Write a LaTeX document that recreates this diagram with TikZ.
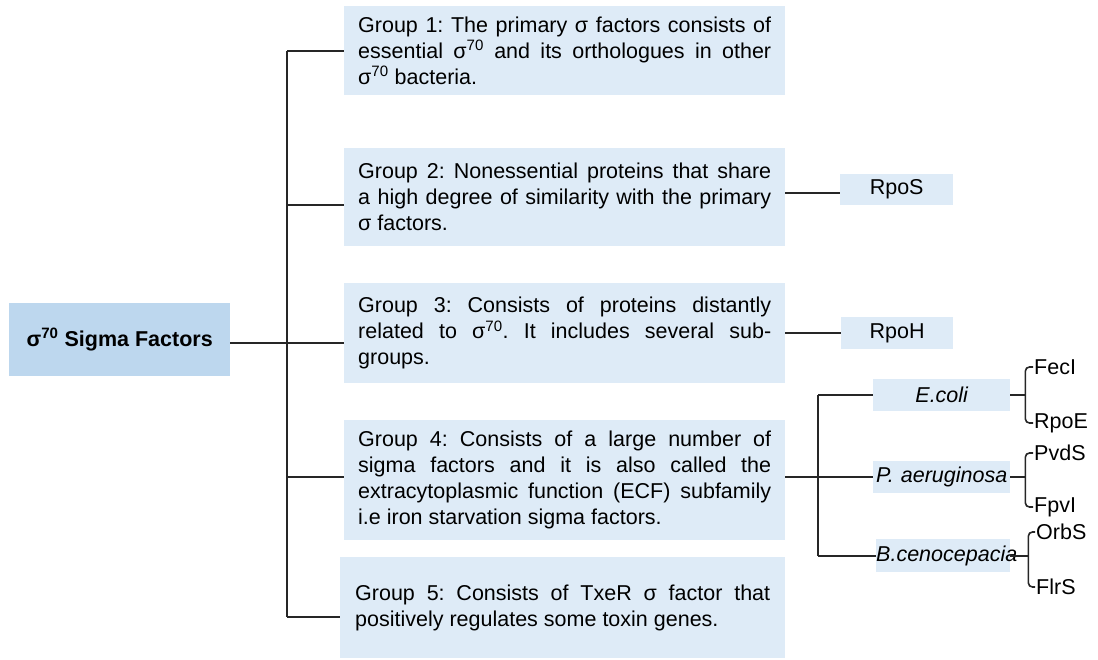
\documentclass[tikz,border=0pt]{standalone}
\usepackage{fontspec}
\setmainfont{Liberation Sans}
\frenchspacing
\definecolor{mainblue}{RGB}{189,215,238}
\definecolor{grpblue}{RGB}{222,235,247}
\begin{document}
\begin{tikzpicture}[x=1pt,y=-1pt,
  conn/.style={draw=black!85,line width=1.6pt},
  grp/.style={fill=grpblue,anchor=north west,text width=413pt,inner xsep=14pt,inner ysep=0pt,
    align=justify,font=\fontsize{21.5}{26}\selectfont},
  mainbox/.style={fill=mainblue,anchor=north west,inner sep=0pt,align=center,
    font=\fontsize{21.5}{26}\selectfont\bfseries},
  lab/.style={fill=grpblue,anchor=north west,inner sep=0pt,align=center,
    font=\fontsize{21.5}{26}\selectfont},
  leaf/.style={anchor=west,inner sep=1pt,font=\fontsize{21.5}{26}\selectfont}]
\useasboundingbox (0,0) rectangle (1098,659);
% main
\node[mainbox,minimum width=221pt,minimum height=73pt] (main) at (9,303) {σ\textsuperscript{70} Sigma Factors};
% groups
\node[grp,minimum height=89pt] (g1) at (344,6) {Group 1: The primary σ factors consists of\linebreak essential σ\textsuperscript{70} and its orthologues in other\linebreak σ\textsuperscript{70} bacteria.};
\node[grp,minimum height=98pt] (g2) at (344,148) {Group 2: Nonessential proteins that share\linebreak a high degree of similarity with the primary\linebreak σ factors.};
\node[grp,minimum height=100pt] (g3) at (344,283) {Group 3: Consists of proteins distantly\linebreak related to σ\textsuperscript{70}. It includes several sub-\linebreak groups.};
\node[grp,minimum height=120pt] (g4) at (344,420) {Group 4: Consists of a large number of\linebreak sigma factors and it is also called the\linebreak extracytoplasmic function (ECF) subfamily\linebreak i.e iron starvation sigma factors.};
\node[grp,minimum height=101pt,text width=415pt,inner xsep=15pt] (g5) at (340,557) {Group 5: Consists of TxeR σ factor that\linebreak positively regulates some toxin genes.};
% small boxes
\node[lab,minimum width=113pt,minimum height=31pt] (rpos) at (840,174) {RpoS};
\node[lab,minimum width=112pt,minimum height=32pt] (rpoh) at (841,317) {RpoH};
\node[lab,text width=137pt,minimum height=32pt,font=\fontsize{21.5}{26}\selectfont\itshape] (ecoli) at (873,379) {E.coli};
\node[lab,text width=137pt,minimum height=32pt,font=\fontsize{21.5}{26}\selectfont\itshape] (paer) at (873,461) {P. aeruginosa};
\node[lab,text width=134pt,minimum height=33pt,font=\fontsize{21.5}{26}\selectfont\itshape] (bcen) at (876,539) {B.cenocepacia};
% leaves
\node[leaf] (feci) at (1033,367) {FecI};
\node[leaf] (rpoe) at (1033,423) {RpoE};
\node[leaf] (pvds) at (1033,453) {PvdS};
\node[leaf] (fpvi) at (1033,507) {FpvI};
\node[leaf] (orbs) at (1035,532) {OrbS};
\node[leaf] (flrs) at (1035,587) {FlrS};
% trunk
\coordinate (tk) at (287,0);
\path ([yshift=-8pt]g2.west) coordinate (j2);
\path ([yshift=-3.5pt]main.east) coordinate (j3);
\path ([yshift=3pt]g4.west) coordinate (j4);
\path ([yshift=-9.5pt]g5.west) coordinate (j5);
\draw[conn] (g1.west -| tk) -- (j5 -| tk);
\draw[conn] (g1.west -| tk) -- (g1.west);
\draw[conn] (j2 -| tk) -- (j2);
\draw[conn] (j3) -- (j3 -| g3.west);
\draw[conn] (j4 -| tk) -- (j4);
\draw[conn] (j5 -| tk) -- (j5);
% RpoS / RpoH
\path ([yshift=-3.5pt]rpos.west) coordinate (rs);
\draw[conn] (rs -| g2.east) -- (rs);
\draw[conn] (rpoh.west -| g3.east) -- (rpoh.west);
% species tree
\coordinate (sv) at (818,0);
\draw[conn] (paer.west -| g4.east) -- (paer.west);
\draw[conn] (ecoli.west -| sv) -- (bcen.west -| sv);
\draw[conn] (ecoli.west -| sv) -- (ecoli.west);
\draw[conn] (bcen.west -| sv) -- (bcen.west);
% brackets
\path (ecoli.east) ++(15,0) coordinate (b1);
\path (paer.east) ++(15,0) coordinate (b2);
\path (bcen.east) ++(18,0) coordinate (b3);
\draw[conn] (ecoli.east) -- (b1);
\draw[conn] (paer.east) -- (b2);
\draw[conn] (bcen.east) -- (b3);
\draw[conn,rounded corners=4pt] (feci.west) -| (b1) |- (rpoe.west);
\draw[conn,rounded corners=4pt] (pvds.west) -| (b2) |- (fpvi.west);
\draw[conn,rounded corners=4pt] (orbs.west) -| (b3) |- (flrs.west);
\end{tikzpicture}
\end{document}
